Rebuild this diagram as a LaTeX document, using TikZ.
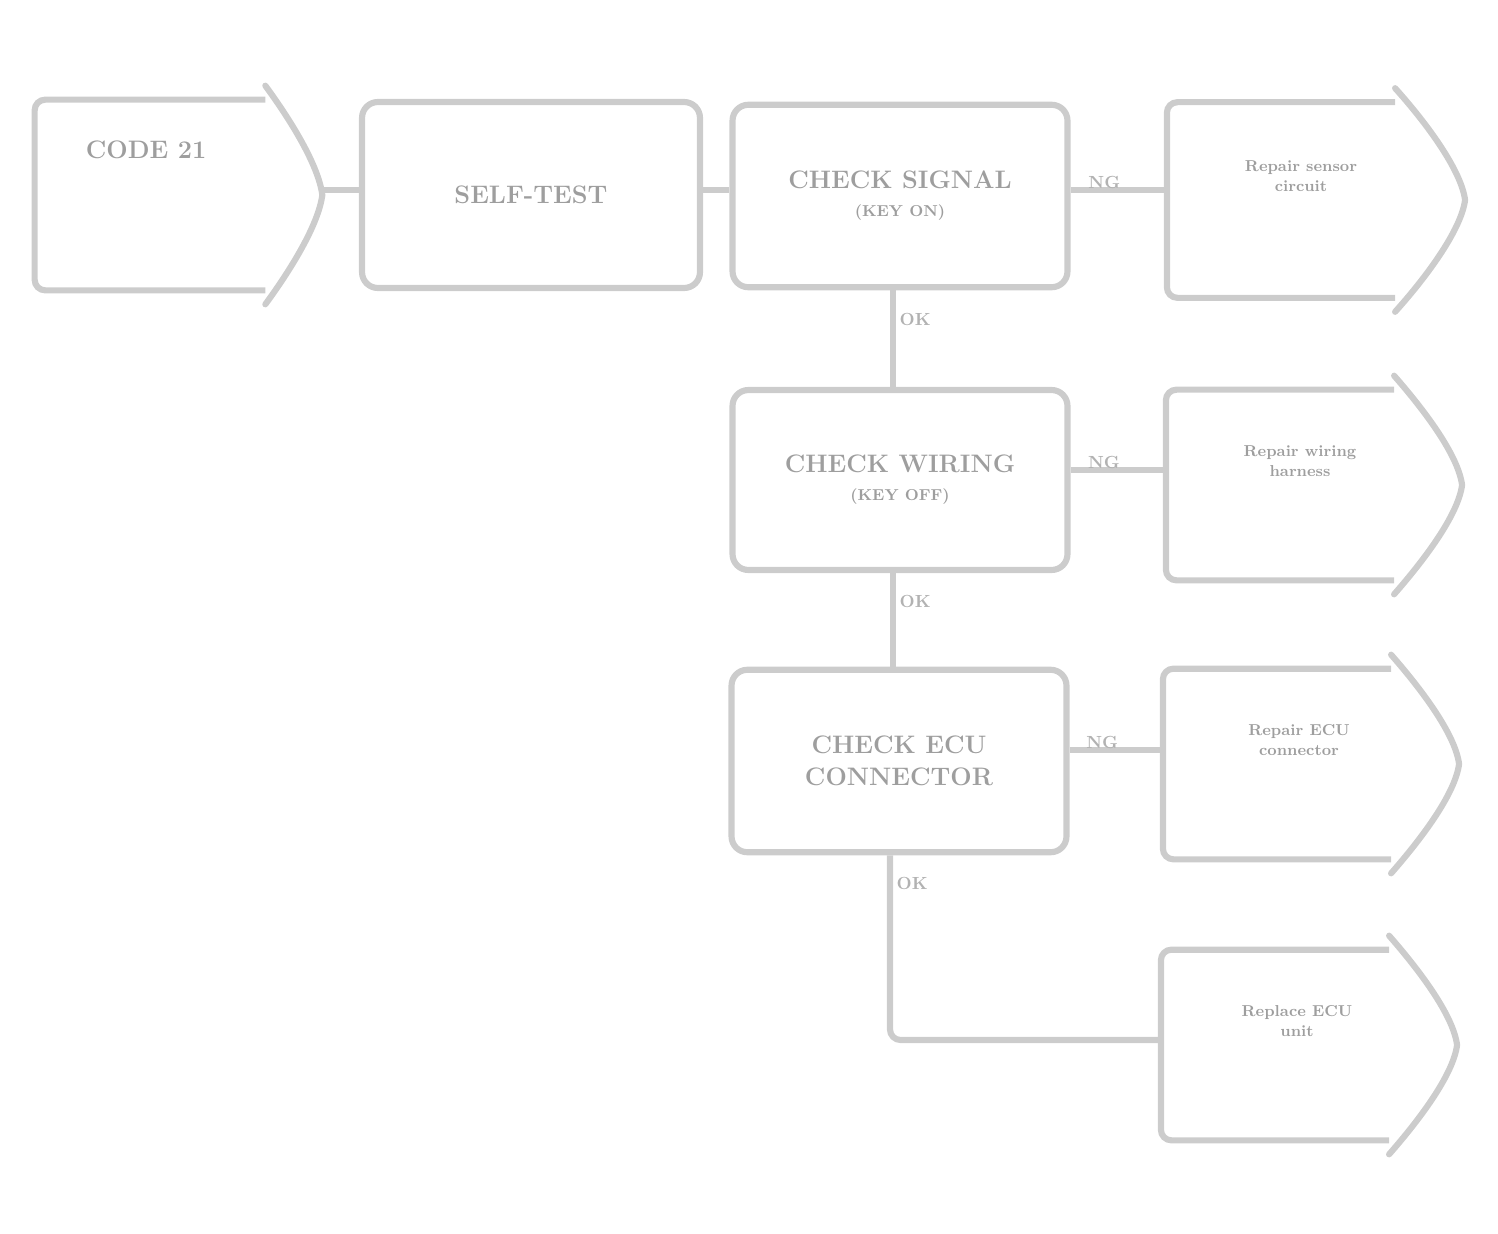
\documentclass[tikz,border=0pt]{standalone}
\usepackage{tikz}
\usetikzlibrary{arrows.meta,positioning,calc}

\tikzset{
  flowline/.style={draw=black!20,line width=3.5pt,rounded corners=6pt},
  stepbox/.style={draw=black!20,line width=3.5pt,rounded corners=9pt,
    minimum width=6.7cm,minimum height=3.65cm,align=center,
    font=\Large\bfseries,text=black!38},
  endbox/.style={minimum width=4.55cm,minimum height=3.9cm},
  endtext/.style={align=center,font=\small\bfseries,text=black!38},
  answer/.style={font=\normalsize\bfseries,text=black!30,inner sep=2pt},
}
% open box with a bent point on the right
\newcommand{\pointbox}[2]{%
  \draw[flowline] (#1.north east) -- (#1.north west) -- (#1.south west) -- (#1.south east);
  \draw[draw=black!20,line width=3.5pt,line cap=round]
    ($(#1.north east)+(0,-14)$) .. controls +(#2*0.45,35) and +(-4,-30) ..
    ($(#1.east)+(#2,0)$) .. controls +(-4,30) and +(#2*0.45,-35) ..
    ($(#1.south east)+(0,14)$);
}

\begin{document}
\begin{tikzpicture}[x=0.02cm,y=-0.02cm]
    \useasboundingbox (0,0) rectangle (1498,1234);

    % Start
    \node[endbox,minimum width=4.6cm,minimum height=3.8cm] (start) at (150,195) {};
    \pointbox{start}{57}
    \node[anchor=west,font=\Large\bfseries,text=black!38] (starttxt)
        at ($(start.north west)+(45,50)$) {CODE 21};

    % Main column
    \node[stepbox,minimum width=6.76cm,minimum height=3.72cm] (selftest) at (531,195) {SELF-TEST};
    \node[stepbox] (sensor) at (900,196) {CHECK SIGNAL\\[-2pt]{\small (KEY ON)}};
    \node[stepbox,minimum height=3.6cm] (harness) at (900,480) {CHECK WIRING\\[-2pt]{\small (KEY OFF)}};
    \node[stepbox] (unit) at (899,761) {CHECK ECU\\CONNECTOR};

    % Result boxes
    \node[endbox] (fix1) at (1281,200) {};
    \node[endbox,minimum height=3.8cm] (fix2) at (1280,485) {};
    \node[endbox,minimum height=3.8cm] (fix3) at (1277,764) {};
    \node[endbox,minimum height=3.8cm] (fix4) at (1275,1045) {};
    \pointbox{fix1}{70}
    \pointbox{fix2}{68}
    \pointbox{fix3}{68}
    \pointbox{fix4}{68}
    \node[endtext] (fix1txt) at ($(fix1.center)+(20,-24)$) {Repair sensor\\circuit};
    \node[endtext] (fix2txt) at ($(fix2.center)+(20,-24)$) {Repair wiring\\harness};
    \node[endtext] (fix3txt) at ($(fix3.center)+(22,-24)$) {Repair ECU\\connector};
    \node[endtext] (fix4txt) at ($(fix4.center)+(22,-24)$) {Replace ECU\\unit};

    % Connectors
    \draw[flowline] ($(start.east)+(57,-5)$) -- (selftest.west |- 0,190);
    \draw[flowline] (selftest.east |- 0,190) -- (sensor.west |- 0,190);

    \draw[flowline] (sensor.east |- 0,190) -- node[answer,pos=0.35,above=-3pt] {NG} (fix1.west |- 0,190);
    \draw[flowline] (harness.east |- 0,470) -- node[answer,pos=0.35,above=-3pt] {NG} (fix2.west |- 0,470);
    \draw[flowline] (unit.east |- 0,750) -- node[answer,pos=0.35,above=-3pt] {NG} (fix3.west |- 0,750);

    \draw[flowline] (sensor.south -| 893,0) -- node[answer,pos=0.3,right] {OK} (harness.north -| 893,0);
    \draw[flowline] (harness.south -| 893,0) -- node[answer,pos=0.3,right] {OK} (unit.north -| 893,0);
    \draw[flowline] (unit.south -| 890,0) -- node[answer,pos=0.15,right] {OK} (890,1040) -- (fix4.west |- 0,1040);
\end{tikzpicture}
\end{document}
